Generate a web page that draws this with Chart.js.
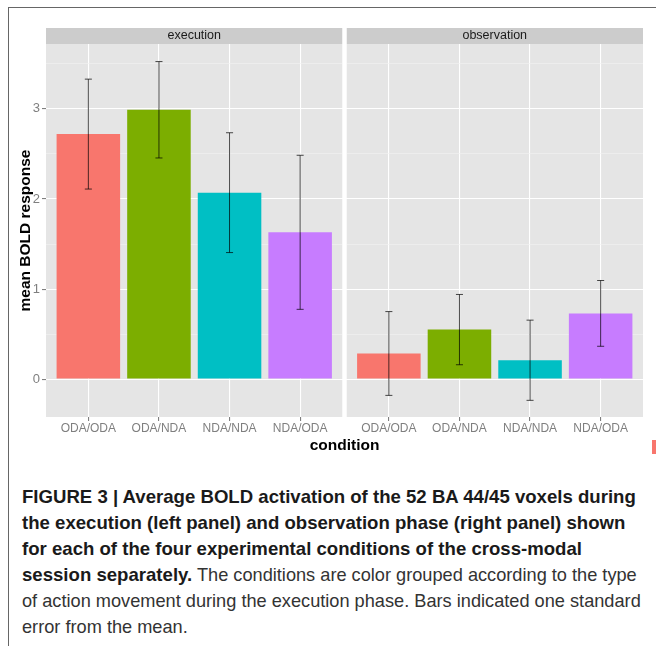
<!DOCTYPE html>
<html>
<head>
<meta charset="utf-8">
<script src="https://cdn.jsdelivr.net/npm/chart.js@4.4.1/dist/chart.umd.min.js"></script>
<style>
  html, body { margin: 0; padding: 0; background: #fff; }
  #fig { position: relative; width: 656px; height: 646px; overflow: hidden; font-family: 'Liberation Sans', Arial, sans-serif; }
  #frame { position: absolute; left: 8px; top: 7px; width: 700px; height: 700px; border-top: 1.5px solid #666; border-left: 1.5px solid #666; }
  #chart { position: absolute; left: 0; top: 0; }
  #caption { position: absolute; left: 22px; top: 484px; font-size: 18.2px; line-height: 26px; color: #333; white-space: nowrap; }
  #caption b { color: #1a1a1a; font-size: 18.6px; }
</style>
</head>
<body>
<div id="fig">
  <div id="frame"></div>
  <canvas id="chart" width="656" height="470"></canvas>
  <div id="caption">
    <b>FIGURE 3 | Average BOLD activation of the 52 BA 44/45 voxels during</b><br>
    <b>the execution (left panel) and observation phase (right panel) shown</b><br>
    <b>for each of the four experimental conditions of the cross-modal</b><br>
    <b>session separately.</b> The conditions are color grouped according to the type<br>
    of action movement during the execution phase. Bars indicated one standard<br>
    error from the mean.
  </div>
</div>
<script>
/* datos */
const categories = ['ODA/ODA', 'ODA/NDA', 'NDA/NDA', 'NDA/ODA'];
const phases = ['execution', 'observation'];
const executionMeans = [2.72, 2.99, 2.07, 1.63];
const executionErrors = [0.61, 0.535, 0.665, 0.855];
const observationMeans = [0.285, 0.55, 0.21, 0.73];
const observationErrors = [0.465, 0.39, 0.445, 0.365];
const colors = ['#F8766D', '#7CAE00', '#00BFC4', '#C77CFF'];
const yTicks = [0, 1, 2, 3];

/* cada panel ocupa 4.2 unidades (como ggplot), con un hueco chico entre paneles */
const panelWidth = 4.2;
const gap = 0.0567;
const panelStart = p => 0.4 + p * (panelWidth + gap);
const position = (p, i) => panelStart(p) + 0.6 + i;

const means = [executionMeans, observationMeans];
const errors = [executionErrors, observationErrors];

const points = [];
const pointErrors = [];
const pointColors = [];
phases.forEach((ph, p) => {
    categories.forEach((c, i) => {
        points.push({ x: position(p, i), y: means[p][i] });
        pointErrors.push(errors[p][i]);
        pointColors.push(colors[i]);
    });
});

const xTickValues = points.map(pt => pt.x);
const yTickValues = [];
yTicks.forEach(v => { yTickValues.push(v); yTickValues.push(v + 0.5); });
yTickValues.sort((a, b) => a - b);

const isMajor = v => Number.isInteger(v);

/* fondo gris de paneles y tiras de titulo */
const facetPlugin = {
    id: 'facets',
    beforeDraw(chart) {
        const { ctx, chartArea, scales } = chart;
        ctx.save();
        phases.forEach((ph, p) => {
            const x0 = scales.x.getPixelForValue(panelStart(p));
            const x1 = scales.x.getPixelForValue(panelStart(p) + panelWidth);
            ctx.fillStyle = '#E5E5E5';
            ctx.fillRect(x0, chartArea.top, x1 - x0, chartArea.bottom - chartArea.top);
            ctx.fillStyle = '#CCCCCC';
            ctx.fillRect(x0, chartArea.top - 16, x1 - x0, 16);
            ctx.fillStyle = '#1A1A1A';
            ctx.font = '12.5px "Liberation Sans", Arial, sans-serif';
            ctx.textAlign = 'center';
            ctx.textBaseline = 'middle';
            ctx.fillText(ph, (x0 + x1) / 2, chartArea.top - 8);
        });
        ctx.restore();
    },
    beforeDatasetsDraw(chart) {
        /* borrar la grilla en el hueco entre paneles */
        const { ctx, chartArea, scales } = chart;
        const g0 = scales.x.getPixelForValue(panelStart(0) + panelWidth);
        const g1 = scales.x.getPixelForValue(panelStart(1));
        ctx.save();
        ctx.fillStyle = '#fff';
        ctx.fillRect(g0, chartArea.top - 16, g1 - g0, chartArea.bottom - chartArea.top + 16);
        ctx.restore();
    },
    afterDraw(chart) {
        /* pedacito de leyenda cortado a la derecha */
        const { ctx } = chart;
        ctx.save();
        ctx.fillStyle = colors[0];
        ctx.fillRect(652, 440, 6, 14);
        ctx.restore();
    }
};

/* barras de error */
const errorBarPlugin = {
    id: 'errorBars',
    afterDatasetsDraw(chart) {
        const { ctx, scales } = chart;
        ctx.save();
        ctx.strokeStyle = 'rgba(0,0,0,0.7)';
        ctx.lineWidth = 1;
        points.forEach((pt, i) => {
            const x = scales.x.getPixelForValue(pt.x);
            const half = scales.x.getPixelForValue(pt.x + 0.05) - x;
            const yHi = scales.y.getPixelForValue(pt.y + pointErrors[i]);
            const yLo = scales.y.getPixelForValue(pt.y - pointErrors[i]);
            ctx.beginPath();
            ctx.moveTo(x, yHi); ctx.lineTo(x, yLo);
            ctx.moveTo(x - half, yHi); ctx.lineTo(x + half, yHi);
            ctx.moveTo(x - half, yLo); ctx.lineTo(x + half, yLo);
            ctx.stroke();
        });
        ctx.restore();
    }
};

const font = '"Liberation Sans", Arial, sans-serif';

new Chart(document.getElementById('chart'), {
    type: 'bar',
    data: {
        datasets: [{
            data: points,
            backgroundColor: pointColors,
            borderWidth: 0,
            barPercentage: 0.9,
            categoryPercentage: 1
        }]
    },
    options: {
        responsive: false,
        animation: false,
        layout: { padding: { top: 44, right: 13, left: 0, bottom: 0 } },
        plugins: { legend: { display: false }, tooltip: { enabled: false } },
        scales: {
            x: {
                type: 'linear',
                offset: false,
                min: panelStart(0),
                max: panelStart(1) + panelWidth,
                afterBuildTicks: s => { s.ticks = xTickValues.map(v => ({ value: v })); },
                afterFit: s => { s.height = 53; },
                grid: { offset: false, color: '#fff', lineWidth: 1.1, tickColor: '#7f7f7f', tickLength: 4 },
                border: { display: false },
                ticks: {
                    autoSkip: false, maxRotation: 0, padding: 0,
                    color: '#7f7f7f', font: { family: font, size: 12 },
                    callback: (v, i) => categories[i % categories.length]
                },
                title: {
                    display: true, text: 'condition', color: '#000',
                    font: { family: font, size: 15.5, weight: 'bold' },
                    padding: { top: 0, bottom: 14.7 }
                }
            },
            y: {
                min: -0.42,
                max: 3.72,
                afterBuildTicks: s => { s.ticks = yTickValues.map(v => ({ value: v })); },
                afterFit: s => { s.width = 46; },
                grid: {
                    color: c => isMajor(c.tick.value) ? '#fff' : '#F2F2F2',
                    lineWidth: c => isMajor(c.tick.value) ? 1.1 : 0.6,
                    tickColor: c => isMajor(c.tick.value) ? '#7f7f7f' : 'rgba(0,0,0,0)',
                    tickLength: 4
                },
                border: { display: false },
                ticks: {
                    autoSkip: false, padding: 2,
                    color: '#7f7f7f', font: { family: font, size: 13 },
                    callback: v => isMajor(v) ? v : ''
                },
                title: {
                    display: true, text: 'mean BOLD response', color: '#000',
                    font: { family: font, size: 15.5, weight: 'bold' },
                    padding: { top: 16.7, bottom: 0 }
                }
            }
        }
    },
    plugins: [facetPlugin, errorBarPlugin]
});
</script>
</body>
</html>
